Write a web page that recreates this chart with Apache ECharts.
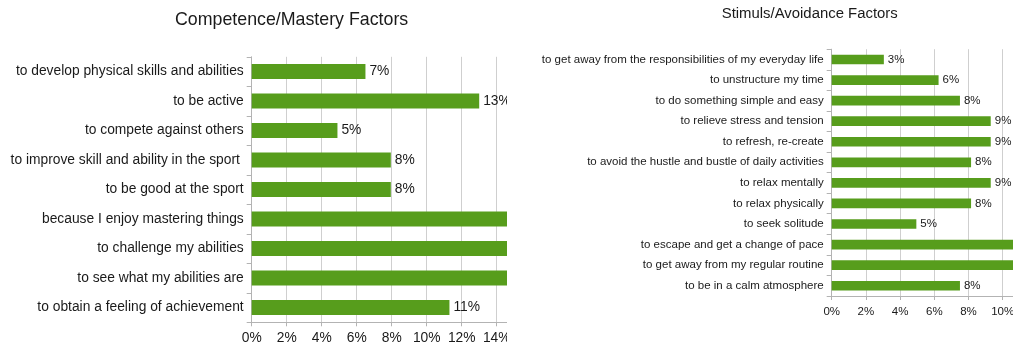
<!DOCTYPE html>
<html>
<head>
<meta charset="utf-8">
<script src="https://cdn.jsdelivr.net/npm/echarts@6/dist/echarts.min.js"></script>
<style>
html,body{margin:0;padding:0;background:#fff;}
#left{position:absolute;left:0;top:0;width:507px;height:350px;}
#right{position:absolute;left:510px;top:0;width:503px;height:350px;}
</style>
</head>
<body>
<div id="left"></div>
<div id="right"></div>
<script>
const leftTitle = 'Competence/Mastery Factors';
const leftCategories = [
  'to develop physical skills and abilities',
  'to be active',
  'to compete against others',
  'to improve skill and ability in the sport ',
  'to be good at the sport',
  'because I enjoy mastering things',
  'to challenge my abilities',
  'to see what my abilities are',
  'to obtain a feeling of achievement'
];
const leftValues = [6.5, 13.0, 4.9, 7.95, 7.95, 16, 16, 15, 11.3];

const rightTitle = 'Stimuls/Avoidance Factors';
const rightCategories = [
  'to get away from the responsibilities of my everyday life',
  'to unstructure my time',
  'to do something simple and easy',
  'to relieve stress and tension',
  'to refresh, re-create',
  'to avoid the hustle and bustle of daily activities',
  'to relax mentally',
  'to relax physically',
  'to seek solitude',
  'to escape and get a change of pace',
  'to get away from my regular routine',
  'to be in a calm atmosphere'
];
const rightValues = [3.05, 6.25, 7.5, 9.3, 9.3, 8.15, 9.3, 8.15, 4.95, 12, 11.5, 7.5];

const FONT = 'Liberation Sans, Arial, sans-serif';
const TEXT = '#1a1a1a';

function build(cfg) {
  return {
    animation: false,
    title: {
      text: cfg.title, left: cfg.titleLeft, top: cfg.titleTop, padding: 0,
      textStyle: { fontFamily: FONT, fontSize: cfg.titleSize, fontWeight: 'normal', color: TEXT }
    },
    grid: { left: cfg.gridLeft, top: cfg.gridTop, width: cfg.gridWidth, height: cfg.gridHeight,
            containLabel: false, outerBoundsMode: 'none' },
    xAxis: {
      type: 'value', min: 0, max: cfg.max, interval: 2,
      axisLine: { show: true, lineStyle: { color: '#b3b3b3' } },
      axisTick: { show: true, length: 4, lineStyle: { color: '#b3b3b3' } },
      splitLine: { show: true, lineStyle: { color: '#cfcfcf' } },
      axisLabel: { formatter: '{value}%', fontFamily: FONT, fontSize: cfg.fontSize, color: TEXT, margin: cfg.xMargin }
    },
    yAxis: {
      type: 'category', inverse: true, data: cfg.categories,
      axisLine: { show: true, lineStyle: { color: '#b3b3b3' } },
      axisTick: { show: true, length: 5, lineStyle: { color: '#b3b3b3' } },
      axisLabel: { fontFamily: FONT, fontSize: cfg.fontSize, color: TEXT, margin: 8 }
    },
    series: [{
      type: 'bar', data: cfg.values, barWidth: cfg.barWidth,
      itemStyle: { color: '#579d1c' },
      label: {
        show: true, position: 'right', distance: 4,
        fontFamily: FONT, fontSize: cfg.fontSize, color: TEXT,
        formatter: p => Math.round(p.value) + '%'
      }
    }]
  };
}

const leftChart = echarts.init(document.getElementById('left'), null, { renderer: 'canvas' });
leftChart.setOption(build({
  title: leftTitle, titleLeft: 175, titleTop: 11, titleSize: 17.8,
  gridLeft: 251.7, gridTop: 56.8, gridWidth: 17.5 * 16, gridHeight: 265.5,
  max: 16, categories: leftCategories, values: leftValues,
  fontSize: 13.8, xMargin: 9, barWidth: '51%'
}));

const rightChart = echarts.init(document.getElementById('right'), null, { renderer: 'canvas' });
rightChart.setOption(build({
  title: rightTitle, titleLeft: 211.7, titleTop: 6.5, titleSize: 14.9,
  gridLeft: 321.7, gridTop: 49.2, gridWidth: 17.1 * 12, gridHeight: 246.8,
  max: 12, categories: rightCategories, values: rightValues,
  fontSize: 11.5, xMargin: 10, barWidth: '47%'
}));
</script>
</body>
</html>
